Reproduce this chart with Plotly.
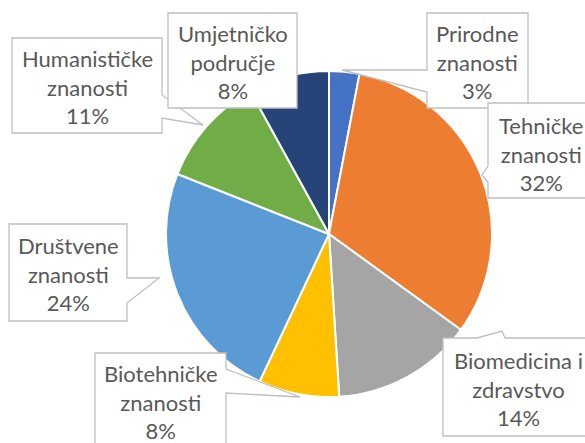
import plotly.graph_objects as go

# ---- data ----
categories = ["Prirodne znanosti", "Tehničke znanosti", "Biomedicina i zdravstvo",
              "Biotehničke znanosti", "Društvene znanosti", "Humanističke znanosti",
              "Umjetničko područje"]
values = [3, 32, 14, 8, 24, 11, 8]

# ---- style ----
colors = ["#4472C4", "#ED7D31", "#A5A5A5", "#FFC000", "#5B9BD5", "#70AD47", "#264478"]
W, H = 585, 443
FONT = "Lato"
TXT = "#595959"
BORDER = "#BFBFBF"

# callout layout (pixel units): box rect, wedge (edge, base a, base b, tip), text centre
callouts = {
    "Prirodne znanosti": dict(rect=(427, 13, 528, 108), wedge=("left", 70, 92, (342, 70)), c=(477.5, 62)),
    "Humanističke znanosti": dict(rect=(12, 38, 162, 133), wedge=("right", 95, 118, (203, 125)), c=(87, 87)),
    "Umjetničko područje": dict(rect=(168, 13, 297, 108), wedge=None, c=(232.5, 62)),
    "Tehničke znanosti": dict(rect=(488, 103, 610, 198), wedge=("left", 166, 182, (482, 175)), c=(541, 154)),
    "Biomedicina i zdravstvo": dict(rect=(443, 338, 610, 436), wedge=("top", 477, 505, (502, 331)), c=(518, 389)),
    "Biotehničke znanosti": dict(rect=(95, 353, 226, 470), wedge=("right", 369, 393, (300, 397)), c=(161, 402)),
    "Društvene znanosti": dict(rect=(9, 224, 127, 321), wedge=("right", 278, 303, (159, 278)), c=(68, 274)),
}
draw_order = ["Humanističke znanosti", "Umjetničko područje", "Prirodne znanosti",
              "Tehničke znanosti", "Biomedicina i zdravstvo", "Biotehničke znanosti",
              "Društvene znanosti"]


def px(x, y):
    return x / W, 1 - y / H


def callout_path(rect, wedge):
    x0, y0, x1, y1 = rect
    pts = [(x0, y0)]
    if wedge and wedge[0] == "top":
        _, a, b, tip = wedge
        pts += [(a, y0), tip, (b, y0)]
    pts.append((x1, y0))
    if wedge and wedge[0] == "right":
        _, a, b, tip = wedge
        pts += [(x1, a), tip, (x1, b)]
    pts.append((x1, y1))
    pts.append((x0, y1))
    if wedge and wedge[0] == "left":
        _, a, b, tip = wedge
        pts += [(x0, b), tip, (x0, a)]
    s = ""
    for i, (x, y) in enumerate(pts):
        X, Y = px(x, y)
        s += ("M" if i == 0 else "L") + f"{X:.5f},{Y:.5f} "
    return s + "Z"


total = sum(values)
pct = {c: round(v / total * 100) for c, v in zip(categories, values)}


def label_text(name):
    head, _, tail = name.rpartition(" ")
    return f"{head}<br>{tail}<br>{pct[name]}%"


cx, cy, r = 329, 234, 163
fig = go.Figure(go.Pie(
    labels=categories, values=values, sort=False, direction="clockwise", rotation=0,
    marker=dict(colors=colors, line=dict(color="white", width=2)),
    textinfo="none", showlegend=False,
    domain=dict(x=[(cx - r) / W, (cx + r) / W], y=[1 - (cy + r) / H, 1 - (cy - r) / H]),
))

shapes = []
annotations = []
for name in draw_order:
    co = callouts[name]
    shapes.append(dict(type="path", xref="paper", yref="paper",
                       path=callout_path(co["rect"], co["wedge"]),
                       fillcolor="white", line=dict(color=BORDER, width=1.3), layer="above"))
for name in draw_order:
    co = callouts[name]
    X, Y = px(*co["c"])
    annotations.append(dict(x=X, y=Y, xref="paper", yref="paper", text=label_text(name),
                            showarrow=False, xanchor="center", yanchor="middle", align="center",
                            font=dict(family=FONT, size=22, color=TXT)))

fig.update_layout(width=W, height=H, margin=dict(l=0, r=0, t=0, b=0),
                  paper_bgcolor="white", plot_bgcolor="white",
                  shapes=shapes, annotations=annotations)
fig.write_html("out.html", config={"displayModeBar": False},
               post_script="document.body.style.margin='0';")
